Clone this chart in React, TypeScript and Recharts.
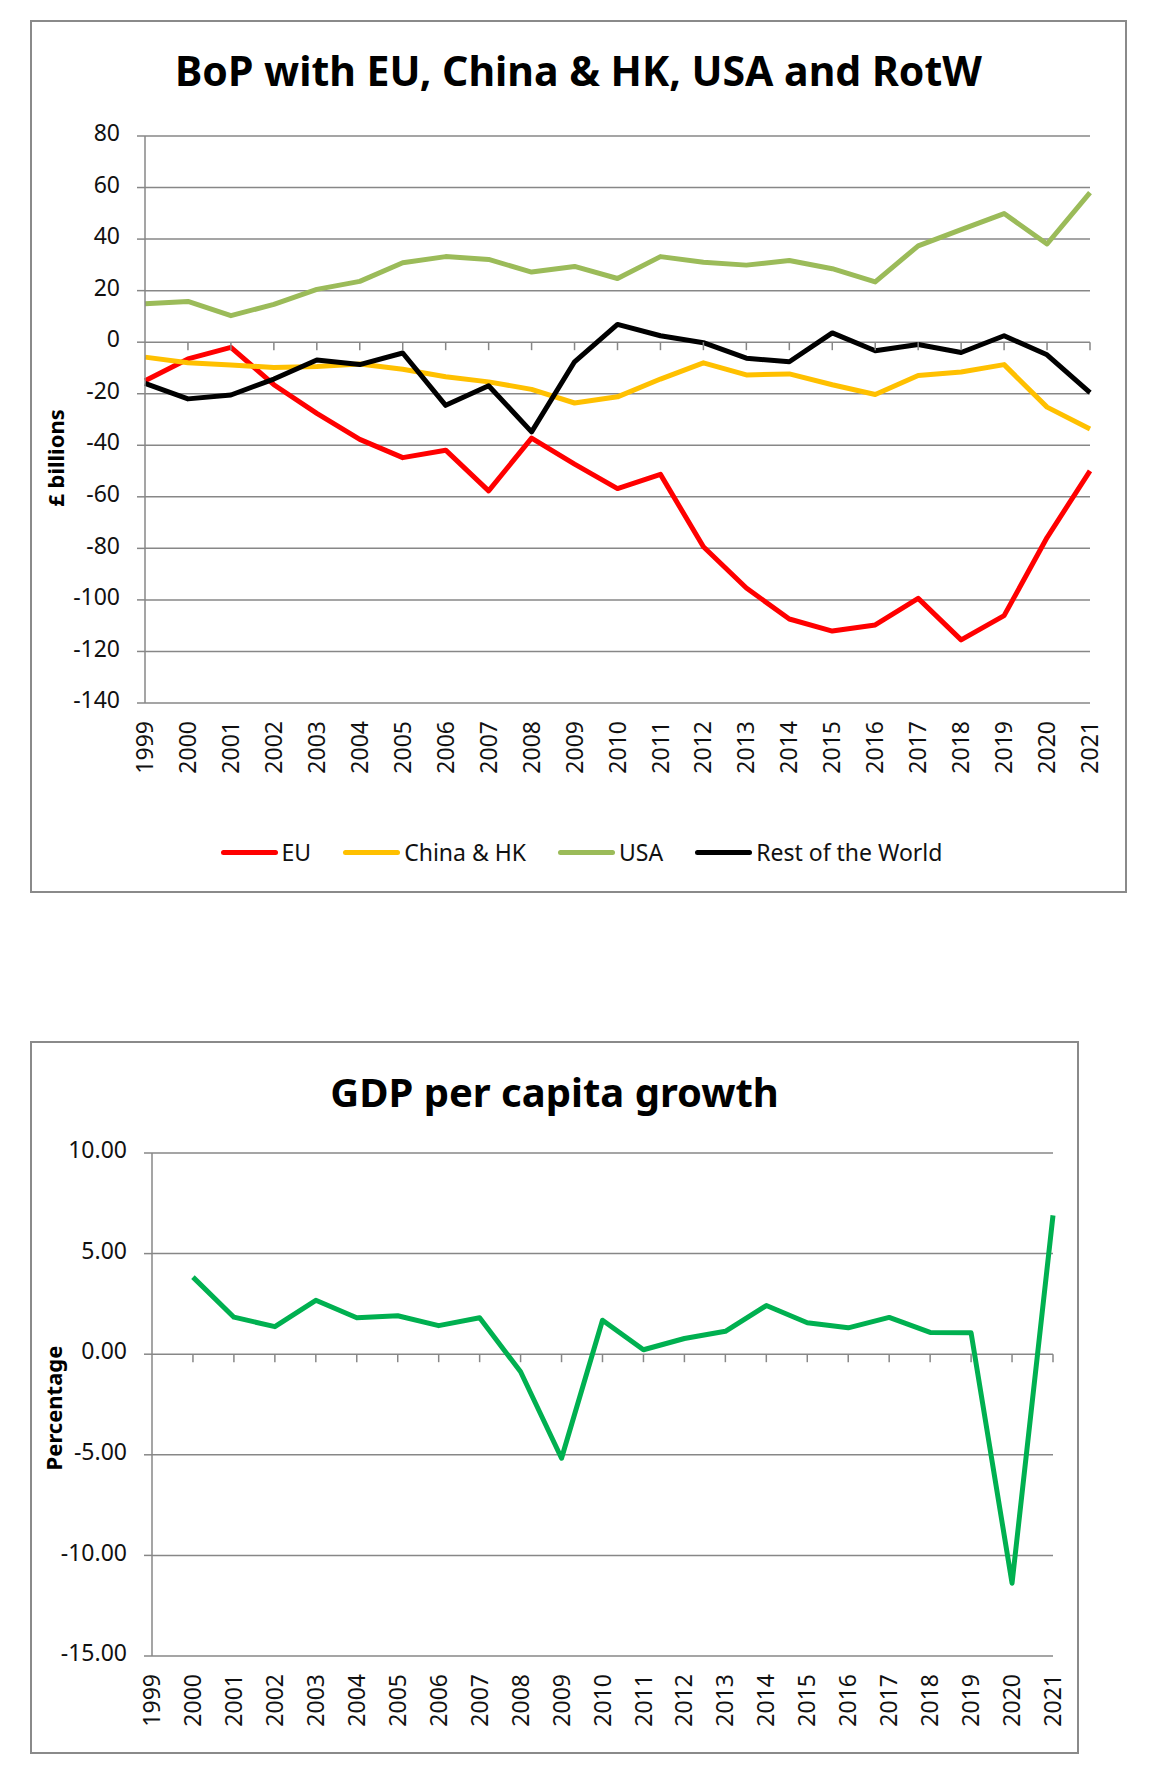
import React from 'react';
import { LineChart, Line, XAxis, YAxis, CartesianGrid, ReferenceDot } from 'recharts';

// categories
const years = ['1999', '2000', '2001', '2002', '2003', '2004', '2005', '2006', '2007', '2008', '2009', '2010',
  '2011', '2012', '2013', '2014', '2015', '2016', '2017', '2018', '2019', '2020', '2021'];

// balance of payments, £ billions
const euBalance = [-15, -6.5, -2, -16.5, -27.6, -37.7, -44.8, -41.9, -57.7, -37.2, -47.3, -56.8,
  -51.3, -79.4, -95.4, -107.4, -112.1, -109.7, -99.4, -115.5, -106.1, -75.8, -49.9];
const chinaHkBalance = [-5.8, -8, -8.9, -9.8, -9.4, -8.5, -10.5, -13.4, -15.4, -18.3, -23.6, -21.2,
  -14.3, -8, -12.7, -12.3, -16.5, -20.3, -12.9, -11.6, -8.7, -25.2, -33.7];
const usaBalance = [14.9, 15.8, 10.3, 14.7, 20.5, 23.6, 30.8, 33.2, 32.1, 27.2, 29.4, 24.7,
  33.2, 31, 29.9, 31.7, 28.5, 23.4, 37.4, 43.7, 49.9, 38.1, 58];
const rotwBalance = [-16, -22, -20.5, -14.3, -6.9, -8.7, -4.2, -24.5, -16.9, -34.8, -7.6, 6.9,
  2.5, -0.2, -6.2, -7.6, 3.6, -3.3, -0.9, -4, 2.5, -4.9, -19.6];

// GDP per capita growth, %
const gdpGrowth = [null, 3.83, 1.84, 1.37, 2.68, 1.81, 1.91, 1.42, 1.81, -0.87, -5.17, 1.69,
  0.22, 0.78, 1.14, 2.42, 1.56, 1.31, 1.83, 1.08, 1.06, -11.38, 6.9];

const bopTicks = [-140, -120, -100, -80, -60, -40, -20, 0, 20, 40, 60, 80];
const gdpTicks = [-15, -10, -5, 0, 5, 10];

const series = [
  { key: 'eu', name: 'EU', values: euBalance, color: '#FF0000' },
  { key: 'china', name: 'China & HK', values: chinaHkBalance, color: '#FFC000' },
  { key: 'usa', name: 'USA', values: usaBalance, color: '#9BBB59' },
  { key: 'rotw', name: 'Rest of the World', values: rotwBalance, color: '#000000' },
];

const bopData = years.map((year, i) => {
  const row: any = { year };
  series.forEach((s) => { row[s.key] = s.values[i]; });
  return row;
});
const gdpData = years.map((year, i) => ({ year, gdp: gdpGrowth[i] }));

const FONT = '"Noto Sans", "Open Sans", sans-serif';
const GRID = '#878787';
const TEXT = '#111111';

const VerticalTick = (props: any) => {
  const { x, y, payload } = props;
  return (
    <text x={x} y={y} transform={`rotate(-90, ${x}, ${y})`} textAnchor="end" dy="0.35em"
      fontSize={23} fill={TEXT} fontFamily={FONT}>
      {payload.value}
    </text>
  );
};

// short tick mark hanging from the zero line
const zeroTick = (p: any) => (
  <line x1={p.cx} y1={p.cy} x2={p.cx} y2={p.cy + 8} stroke={GRID} strokeWidth={1.5} />
);

const frame: React.CSSProperties = {
  position: 'absolute', left: 22, boxSizing: 'border-box', border: '2px solid #8a8a8a', background: '#fff',
};
const titleStyle: React.CSSProperties = {
  position: 'absolute', left: 0, right: 0, textAlign: 'center', fontWeight: 700, fontSize: 40,
  lineHeight: '40px', color: '#000',
};
const axisTitle: React.CSSProperties = {
  position: 'absolute', width: 200, textAlign: 'center', fontWeight: 700, fontSize: 22,
  lineHeight: '22px', transform: 'rotate(-90deg)', color: '#000',
};

const App = () => {
  return (
    <div style={{ position: 'relative', width: 1144, height: 1768, fontFamily: FONT }}>
      {/* BoP chart */}
      <div style={{ ...frame, top: 12, width: 1097, height: 873 }}>
        <div style={{ ...titleStyle, top: 28, fontSize: 41, lineHeight: '41px' }}>
          BoP with EU, China &amp; HK, USA and RotW
        </div>
        <div style={{ ...axisTitle, left: 55 - 100 - 32, top: 458 - 11 - 22 }}>£ billions</div>
        <LineChart width={1093} height={869} data={bopData}
          margin={{ top: 114, right: 35, left: 0, bottom: 88 }} style={{ position: 'absolute', left: 0, top: 0 }}>
          <CartesianGrid vertical={false} stroke={GRID} strokeWidth={1.5} />
          <XAxis dataKey="year" interval={0} axisLine={false} tickLine={false} tickSize={0} tickMargin={18}
            height={100} tick={<VerticalTick />} />
          <YAxis domain={[-140, 80]} ticks={bopTicks} width={113} tickSize={8} tickMargin={17}
            axisLine={{ stroke: GRID, strokeWidth: 1.5 }} tickLine={{ stroke: GRID, strokeWidth: 1.5 }}
            tick={{ fill: TEXT, fontSize: 23, fontFamily: FONT, dy: -3 }} />
          {years.slice(1).map((year) => (
            <ReferenceDot key={year} x={year} y={0} r={0} shape={zeroTick} />
          ))}
          {series.map((s) => (
            <Line key={s.key} type="linear" dataKey={s.key} name={s.name} stroke={s.color} strokeWidth={5}
              dot={false} activeDot={false} strokeLinejoin="round" isAnimationActive={false} />
          ))}
        </LineChart>
        <div style={{ position: 'absolute', top: 815, left: 6, right: 0, height: 30, display: 'flex',
          justifyContent: 'center', alignItems: 'center', fontSize: 23, color: TEXT }}>
          {series.map((s, i) => (
            <div key={s.key} style={{ display: 'flex', alignItems: 'center', marginLeft: i === 0 ? 0 : 32 }}>
              <div style={{ width: 57, height: 5, borderRadius: 3, background: s.color, marginRight: 4 }} />
              <span>{s.name}</span>
            </div>
          ))}
        </div>
      </div>

      {/* GDP chart */}
      <div style={{ ...frame, top: 1033, width: 1049, height: 713 }}>
        <div style={{ ...titleStyle, top: 29 }}>GDP per capita growth</div>
        <div style={{ ...axisTitle, left: 53 - 100 - 32, top: 1408 - 11 - 1043 }}>Percentage</div>
        <LineChart width={1045} height={709} data={gdpData}
          margin={{ top: 110, right: 24, left: 0, bottom: 0 }} style={{ position: 'absolute', left: 0, top: 0 }}>
          <CartesianGrid vertical={false} stroke={GRID} strokeWidth={1.5} />
          <XAxis dataKey="year" interval={0} axisLine={false} tickLine={false} tickSize={0} tickMargin={18}
            height={96} tick={<VerticalTick />} />
          <YAxis domain={[-15, 10]} ticks={gdpTicks} width={120} tickSize={8} tickMargin={17}
            tickFormatter={(v: number) => v.toFixed(2)}
            axisLine={{ stroke: GRID, strokeWidth: 1.5 }} tickLine={{ stroke: GRID, strokeWidth: 1.5 }}
            tick={{ fill: TEXT, fontSize: 23, fontFamily: FONT, dy: -3 }} />
          {years.slice(1).map((year) => (
            <ReferenceDot key={year} x={year} y={0} r={0} shape={zeroTick} />
          ))}
          <Line type="linear" dataKey="gdp" name="GDP per capita growth" stroke="#00B050" strokeWidth={5}
            dot={false} activeDot={false} strokeLinejoin="round" isAnimationActive={false} />
        </LineChart>
      </div>
    </div>
  );
};

export default App;
